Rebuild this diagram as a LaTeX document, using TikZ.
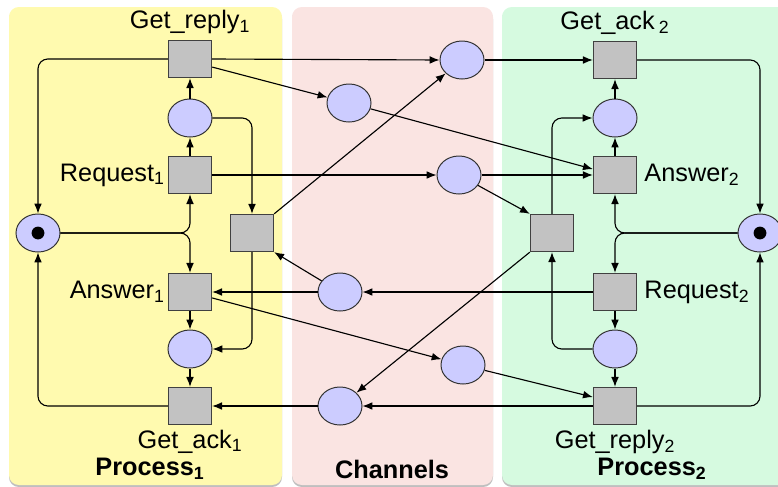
\documentclass[tikz,border=0pt]{standalone}
\usepackage{fontspec}
\setmainfont{Liberation Sans}
\usetikzlibrary{positioning, arrows.meta, shapes.geometric}
\definecolor{ProcOneColor}{RGB}{255,250,175}
\definecolor{ChannelColor}{RGB}{250,228,226}
\definecolor{ProcTwoColor}{RGB}{214,250,224}
\definecolor{PlaceColor}{RGB}{204,204,255}
\definecolor{TransColor}{RGB}{194,194,194}
\tikzset{
  place/.style={ellipse, draw=black!80, fill=PlaceColor, line width=0.7pt, minimum width=1.1cm, minimum height=0.95cm, inner sep=0pt},
  trans/.style={rectangle, draw=black!75, fill=TransColor, line width=0.8pt, minimum width=1.08cm, minimum height=0.93cm, inner sep=0pt},
  arc/.style={-{Latex[length=7pt,width=5.5pt]}, line width=0.8pt, rounded corners=7pt},
  lbl/.style={font=\fontsize{18}{20}\selectfont, inner sep=1pt},
  lane/.style={font=\fontsize{18}{20}\selectfont\bfseries, inner sep=1pt},
}
\begin{document}
\begin{tikzpicture}[x=0.025cm, y=-0.025cm]
  \useasboundingbox (0,0) rectangle (778,487);
  \clip (0,0) rectangle (778,487);
  % lanes
  \fill[black!25, rounded corners=7pt] (9,9) rectangle (282,487);
  \fill[black!25, rounded corners=7pt] (292,9) rectangle (493,487);
  \fill[black!25, rounded corners=7pt] (502,9) rectangle (800,487);
  \fill[ProcOneColor, rounded corners=7pt] (9,7) rectangle (282,485);
  \fill[ChannelColor, rounded corners=7pt] (292,7) rectangle (493,485);
  \fill[ProcTwoColor, rounded corners=7pt] (502,7) rectangle (800,485);

  % process 1
  \node[trans] (getreply1) at (190,59) {};
  \node[place] (wait1) at (190,118) {};
  \node[trans] (request1) at (190,175) {};
  \node[place] (idle1) at (38,233) {};
  \node[trans] (recv1) at (252,233) {};
  \node[trans] (answer1) at (190,292) {};
  \node[place] (busy1) at (190,349) {};
  \node[trans] (getack1) at (190,406) {};
  \fill (idle1) circle (0.16cm);

  % channels
  \node[place] (ch1) at (462,60) {};
  \node[place] (ch2) at (349,103) {};
  \node[place] (ch3) at (459,175) {};
  \node[place] (ch4) at (340,292) {};
  \node[place] (ch5) at (463,365) {};
  \node[place] (ch6) at (340,406) {};

  % process 2
  \node[trans] (getack2) at (615,60) {};
  \node[place] (busy2) at (615,118) {};
  \node[trans] (answer2) at (615,175) {};
  \node[place] (idle2) at (760,233) {};
  \node[trans] (recv2) at (552,233) {};
  \node[trans] (request2) at (615,292) {};
  \node[place] (wait2) at (615,349) {};
  \node[trans] (getreply2) at (615,406) {};
  \fill (idle2) circle (0.16cm);

  % labels
  \node[lbl, above=3pt of getreply1] (lgetreply1) {Get\_reply\textsubscript{1}};
  \node[lbl, left=1pt of request1] (lrequest1) {Request\textsubscript{1}};
  \node[lbl, left=1pt of answer1] (lanswer1) {Answer\textsubscript{1}};
  \node[lbl, below=2pt of getack1] (lgetack1) {Get\_ack\textsubscript{1}};
  \node[lbl, above=3pt of getack2] (lgetack2) {Get\_ack\,\textsubscript{2}};
  \node[lbl, right=4pt of answer2] (lanswer2) {Answer\textsubscript{2}};
  \node[lbl, right=4pt of request2] (lrequest2) {Request\textsubscript{2}};
  \node[lbl, below=2pt of getreply2] (lgetreply2) {Get\_reply\textsubscript{2}};
  \node[lane] (lproc1) at (150,469) {Process\textsubscript{1}};
  \node[lane] (lchan) at (392,469) {Channels};
  \node[lane] (lproc2) at (652,469) {Process\textsubscript{2}};

  % arcs inside process 1
  \draw[arc] (request1) -- (wait1);
  \draw[arc] (wait1) -- (getreply1);
  \draw[arc] (answer1) -- (busy1);
  \draw[arc] (busy1) -- (getack1);
  \draw[arc] (getreply1.west) -| (idle1.north);
  \draw[arc] (getack1.west) -| (idle1.south);
  \draw[arc] (idle1.east) -| (request1.south);
  \draw[arc] (idle1.east) -| (answer1.north);
  \draw[arc] (wait1.east) -| (recv1.north);
  \draw[arc] (recv1.south) |- (busy1.east);

  % arcs inside process 2
  \draw[arc] (answer2) -- (busy2);
  \draw[arc] (busy2) -- (getack2);
  \draw[arc] (request2) -- (wait2);
  \draw[arc] (wait2) -- (getreply2);
  \draw[arc] (getack2.east) -| (idle2.north);
  \draw[arc] (getreply2.east) -| (idle2.south);
  \draw[arc] (idle2.west) -| (answer2.south);
  \draw[arc] (idle2.west) -| (request2.north);
  \draw[arc] (recv2.north) |- (busy2.west);
  \draw[arc] (wait2.west) -| (recv2.south);

  % arcs through the channels
  \draw[arc] (getreply1.east) -- (ch1.west);
  \draw[arc] (getreply1.-20) -- (ch2);
  \draw[arc] (recv1.north east) -- (ch1);
  \draw[arc] (request1.east) -- (ch3.west);
  \draw[arc] (ch4) -- (recv1.south east);
  \draw[arc] (ch4.west) -- (answer1.east);
  \draw[arc] (answer1.-15) -- (ch5);
  \draw[arc] (ch6.west) -- (getack1.east);
  \draw[arc] (ch1.east) -- (getack2.west);
  \draw[arc] (ch2) -- (answer2.165);
  \draw[arc] (ch3.east) -- (answer2.west);
  \draw[arc] (ch3) -- (recv2.north west);
  \draw[arc] (request2.west) -- (ch4.east);
  \draw[arc] (ch5) -- (getreply2.158);
  \draw[arc] (getreply2.west) -- (ch6.east);
  \draw[arc] (recv2.south west) -- (ch6);
\end{tikzpicture}
\end{document}
